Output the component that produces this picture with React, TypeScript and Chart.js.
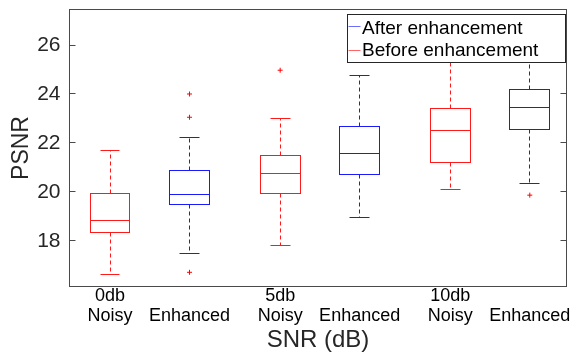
import React, { useEffect, useRef } from 'react';
import { Chart, registerables } from 'chart.js';

Chart.register(...registerables);

// ---- data ----
const categories: string[][] = [
  ['0db', 'Noisy'],
  ['', 'Enhanced'],
  ['5db', 'Noisy'],
  ['', 'Enhanced'],
  ['10db', 'Noisy'],
  ['', 'Enhanced'],
];
const positions = [1, 2, 3.14, 4.14, 5.28, 6.28];
const boxSeries = [1, 0, 1, 0, 1, 0]; // index into legendLabels / seriesColors
const upperWhisker = [21.71, 22.24, 22.99, 24.75, 26.3, 26.95];
const q3 = [19.95, 20.89, 21.5, 22.67, 23.4, 24.19];
const median = [18.84, 19.91, 20.75, 21.56, 22.5, 23.44];
const q1 = [18.33, 19.47, 19.95, 20.73, 21.22, 22.54];
const lowerWhisker = [16.65, 17.48, 17.8, 18.95, 20.09, 20.33];
const outlierBox = [1, 1, 1, 2, 5];
const outlierValue = [24.0, 23.05, 16.72, 24.97, 19.87];
const yTicks = [18, 20, 22, 24, 26];
const legendLabels = ['After enhancement', 'Before enhancement'];
const seriesColors = ['#1a1aff', '#ff1a1a'];
const legendLineColors = ['rgba(60,60,255,0.75)', 'rgba(255,50,50,0.75)'];

const FONT = "'Liberation Sans', Arial, Helvetica, sans-serif";
const BOX_HALF = 0.25;
const CAP_HALF = 0.125;

const al = (v: number) => Math.floor(v) + 0.5;

const boxPlugin = {
  id: 'boxDraw',
  beforeDatasetsDraw(chart: any) {
    const { ctx, scales } = chart;
    const xs = scales.x;
    const ys = scales.y;
    ctx.save();
    ctx.lineWidth = 1;
    for (let i = 0; i < positions.length; i++) {
      const col = seriesColors[boxSeries[i]];
      ctx.strokeStyle = col;
      const cx = al(xs.getPixelForValue(positions[i]));
      const l = al(xs.getPixelForValue(positions[i] - BOX_HALF));
      const r = al(xs.getPixelForValue(positions[i] + BOX_HALF));
      const cl = al(xs.getPixelForValue(positions[i] - CAP_HALF));
      const cr = al(xs.getPixelForValue(positions[i] + CAP_HALF));
      const yq3 = al(ys.getPixelForValue(q3[i]));
      const yq1 = al(ys.getPixelForValue(q1[i]));
      const ym = al(ys.getPixelForValue(median[i]));
      const yu = al(ys.getPixelForValue(upperWhisker[i]));
      const yl = al(ys.getPixelForValue(lowerWhisker[i]));
      // whiskers (dashed)
      ctx.setLineDash([4, 3]);
      ctx.beginPath();
      ctx.moveTo(cx, yq3);
      ctx.lineTo(cx, yu);
      ctx.moveTo(cx, yq1);
      ctx.lineTo(cx, yl);
      ctx.stroke();
      ctx.setLineDash([]);
      // caps
      ctx.beginPath();
      ctx.moveTo(cl, yu);
      ctx.lineTo(cr, yu);
      ctx.moveTo(cl, yl);
      ctx.lineTo(cr, yl);
      ctx.stroke();
      // box
      ctx.strokeRect(l, yq3, r - l, yq1 - yq3);
      // median
      ctx.beginPath();
      ctx.moveTo(l, ym);
      ctx.lineTo(r, ym);
      ctx.stroke();
    }
    ctx.restore();
  },
  afterDraw(chart: any) {
    const { ctx, chartArea, scales } = chart;
    const ys = scales.y;
    ctx.save();
    // frame
    ctx.strokeStyle = '#4a4a4a';
    ctx.lineWidth = 1;
    const L = al(chartArea.left);
    const R = Math.round(chartArea.right) - 0.5;
    const T = al(chartArea.top);
    const B = Math.round(chartArea.bottom) - 0.5;
    ctx.strokeRect(L, T, R - L, B - T);
    // inside y ticks, both sides
    ctx.beginPath();
    for (const v of yTicks) {
      const y = al(ys.getPixelForValue(v));
      ctx.moveTo(L, y);
      ctx.lineTo(L + 6, y);
      ctx.moveTo(R, y);
      ctx.lineTo(R - 6, y);
    }
    ctx.stroke();

    // legend
    const lx = 347.5;
    const ly = 14.5;
    const lw = 218;
    const lh = 48;
    ctx.fillStyle = '#ffffff';
    ctx.fillRect(lx, ly, lw, lh);
    ctx.strokeStyle = '#262626';
    ctx.strokeRect(lx, ly, lw, lh);
    ctx.font = `19px ${FONT}`;
    ctx.textBaseline = 'middle';
    ctx.textAlign = 'left';
    const lineYs = [26.5, 50.5];
    const textYs = [28.4, 50.8];
    legendLabels.forEach((lab, k) => {
      ctx.strokeStyle = legendLineColors[k];
      ctx.beginPath();
      ctx.moveTo(lx + 1, lineYs[k]);
      ctx.lineTo(lx + 13, lineYs[k]);
      ctx.stroke();
      ctx.fillStyle = '#000000';
      ctx.fillText(lab, lx + 14.5, textYs[k]);
    });
    ctx.restore();
  },
};

export default function App() {
  const ref = useRef<HTMLCanvasElement>(null);
  useEffect(() => {
    if (!ref.current) return;
    const outliers = outlierValue.map((v, i) => ({ x: positions[outlierBox[i]], y: v }));
    const chart = new Chart(ref.current, {
      type: 'scatter',
      data: {
        datasets: [
          {
            label: 'Outliers',
            data: outliers,
            pointStyle: 'cross',
            radius: 2.5,
            borderColor: '#ff0000',
            backgroundColor: '#ff0000',
            borderWidth: 1,
          },
        ],
      },
      options: {
        responsive: false,
        animation: false,
        events: [],
        layout: { padding: { top: 9, right: 5, left: 0, bottom: 0 } },
        plugins: { legend: { display: false }, tooltip: { enabled: false } },
        scales: {
          x: {
            type: 'linear',
            min: 0.484,
            max: 6.748,
            grid: { display: false, drawTicks: false },
            border: { display: false },
            afterBuildTicks: (s: any) => {
              s.ticks = positions.map((p) => ({ value: p }));
            },
            afterFit: (s: any) => {
              s.height = 67;
              s.paddingLeft = 0;
              s.paddingRight = 0;
              s.paddingTop = 0;
              s.paddingBottom = 0;
            },
            ticks: {
              autoSkip: false,
              maxRotation: 0,
              padding: -1,
              color: '#000000',
              font: { family: FONT, size: 18, lineHeight: 20 / 18 },
              callback: (_v: any, i: number) => categories[i],
            },
            title: {
              display: true,
              text: 'SNR (dB)',
              color: '#262626',
              padding: { top: 0, bottom: 0 },
              font: { family: FONT, size: 24, lineHeight: 1.1 },
            },
          },
          y: {
            type: 'linear',
            min: 16.12,
            max: 27.47,
            grid: { display: false, drawTicks: false },
            border: { display: false },
            afterBuildTicks: (s: any) => {
              s.ticks = yTicks.map((v) => ({ value: v }));
            },
            afterFit: (s: any) => {
              s.width = 69;
              s.paddingLeft = 0;
              s.paddingRight = 0;
              s.paddingTop = 0;
              s.paddingBottom = 0;
            },
            ticks: {
              padding: 8.5,
              color: '#262626',
              font: { family: FONT, size: 21 },
            },
            title: {
              display: true,
              text: 'PSNR',
              color: '#262626',
              padding: { top: 8, bottom: 0 },
              font: { family: FONT, size: 23, lineHeight: 1.2 },
            },
          },
        },
      },
      plugins: [boxPlugin],
    });
    return () => chart.destroy();
  }, []);
  return (
    <div style={{ position: 'absolute', left: 0, top: 0, width: 572, height: 354, background: '#fff' }}>
      <canvas ref={ref} width={572} height={354} style={{ display: 'block' }} />
    </div>
  );
}
